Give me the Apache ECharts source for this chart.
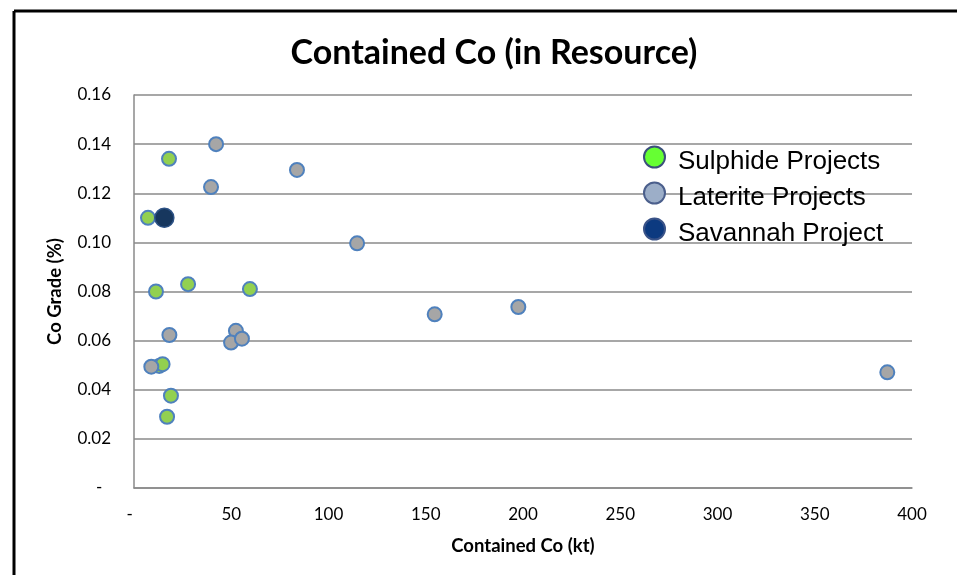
<!DOCTYPE html>
<html>
<head>
<meta charset="utf-8">
<script src="https://cdn.jsdelivr.net/npm/echarts@6/dist/echarts.min.js"></script>
<style>
html,body{margin:0;padding:0;background:#fff;}
#chart{width:957px;height:575px;}
</style>
</head>
<body>
<div id="chart"></div>
<script>
// Data
const seriesNames = ['Sulphide Projects', 'Laterite Projects', 'Savannah Project'];
const sulphideX = [18.0, 7.2, 11.3, 27.8, 59.6, 19.0, 17.0, 13.0, 14.7];
const sulphideY = [0.134, 0.110, 0.080, 0.083, 0.081, 0.0376, 0.029, 0.0497, 0.0504];
const lateriteX = [42.2, 39.6, 83.8, 114.7, 154.6, 197.6, 387.3, 18.2, 52.4, 49.9, 55.5, 8.9];
const lateriteY = [0.140, 0.1225, 0.1295, 0.0996, 0.0707, 0.0737, 0.0471, 0.0623, 0.0640, 0.0592, 0.0608, 0.0494];
const savannahX = [15.6];
const savannahY = [0.110];

function pairs(xs, ys) { return xs.map((x, i) => [x, ys[i]]); }

const chart = echarts.init(document.getElementById('chart'));
const gridColor = '#8a8a8a';
const labelFont = 'Lato';

chart.setOption({
  animation: false,
  backgroundColor: '#ffffff',
  title: {
    text: 'Contained Co (in Resource)',
    left: 489,
    top: 31,
    textAlign: 'center',
    textStyle: { fontFamily: labelFont, fontWeight: 'bold', fontSize: 34, color: '#000' }
  },
  grid: { left: 134, right: 45, top: 95, bottom: 87 },
  legend: {
    orient: 'vertical',
    left: 638,
    top: 134,
    itemWidth: 21,
    itemHeight: 21,
    itemGap: 0,
    icon: 'circle',
    selectedMode: false,
    formatter: '{t|{name}}',
    textStyle: {
      fontFamily: 'Liberation Sans', fontSize: 26, color: '#000',
      rich: { t: { fontFamily: 'Liberation Sans', fontSize: 26, lineHeight: 26, color: '#000', padding: [10, 0, 0, 8] } }
    },
    data: [
      { name: seriesNames[0], itemStyle: { color: '#66ff33', borderColor: '#3b4f7c', borderWidth: 2 } },
      { name: seriesNames[1], itemStyle: { color: '#9caec8', borderColor: '#4b5f8c', borderWidth: 2 } },
      { name: seriesNames[2], itemStyle: { color: '#0c3a80', borderColor: '#3a5388', borderWidth: 2 } }
    ]
  },
  xAxis: {
    type: 'value',
    min: 0, max: 400, interval: 50,
    name: 'Contained Co (kt)',
    nameLocation: 'middle',
    nameGap: 49,
    nameTextStyle: { fontFamily: labelFont, fontWeight: 'bold', fontSize: 18.5, color: '#000' },
    axisLine: { show: true, lineStyle: { color: gridColor, width: 1.5 } },
    axisTick: { show: false },
    splitLine: { show: false },
    axisLabel: {
      margin: 18, fontFamily: labelFont, fontSize: 17, color: '#000',
      formatter: v => v === 0 ? '-  ' : String(v)
    }
  },
  yAxis: {
    type: 'value',
    min: 0, max: 0.16, interval: 0.02,
    name: 'Co Grade (%)',
    nameLocation: 'middle',
    nameGap: 69,
    nameTextStyle: { fontFamily: labelFont, fontWeight: 'bold', fontSize: 18.5, color: '#000' },
    axisLine: { show: true, lineStyle: { color: gridColor, width: 1.5 } },
    axisTick: { show: false },
    splitLine: { show: true, lineStyle: { color: gridColor, width: 1.5 } },
    axisLabel: {
      margin: 23, fontFamily: labelFont, fontSize: 17, color: '#000',
      formatter: v => v === 0 ? '-  ' : v.toFixed(2)
    }
  },
  series: [
    {
      name: seriesNames[0], type: 'scatter', symbol: 'circle', symbolSize: 14,
      itemStyle: { color: '#92d050', borderColor: '#4f81bd', borderWidth: 2, opacity: 1 },
      data: pairs(sulphideX, sulphideY), z: 2
    },
    {
      name: seriesNames[1], type: 'scatter', symbol: 'circle', symbolSize: 14,
      itemStyle: { color: '#a6a6a6', borderColor: '#4f81bd', borderWidth: 2, opacity: 1 },
      data: pairs(lateriteX, lateriteY), z: 3
    },
    {
      name: seriesNames[2], type: 'scatter', symbol: 'circle', symbolSize: 19,
      itemStyle: { color: '#17375e', borderColor: '#2d5285', borderWidth: 1.5, opacity: 1 },
      data: pairs(savannahX, savannahY), z: 4
    }
  ],
  graphic: [
    { type: 'line', shape: { x1: 14, y1: 11, x2: 957, y2: 11 }, style: { stroke: '#000', lineWidth: 3 } },
    { type: 'line', shape: { x1: 14, y1: 11, x2: 14, y2: 575 }, style: { stroke: '#000', lineWidth: 3 } }
  ]
});
</script>
</body>
</html>
